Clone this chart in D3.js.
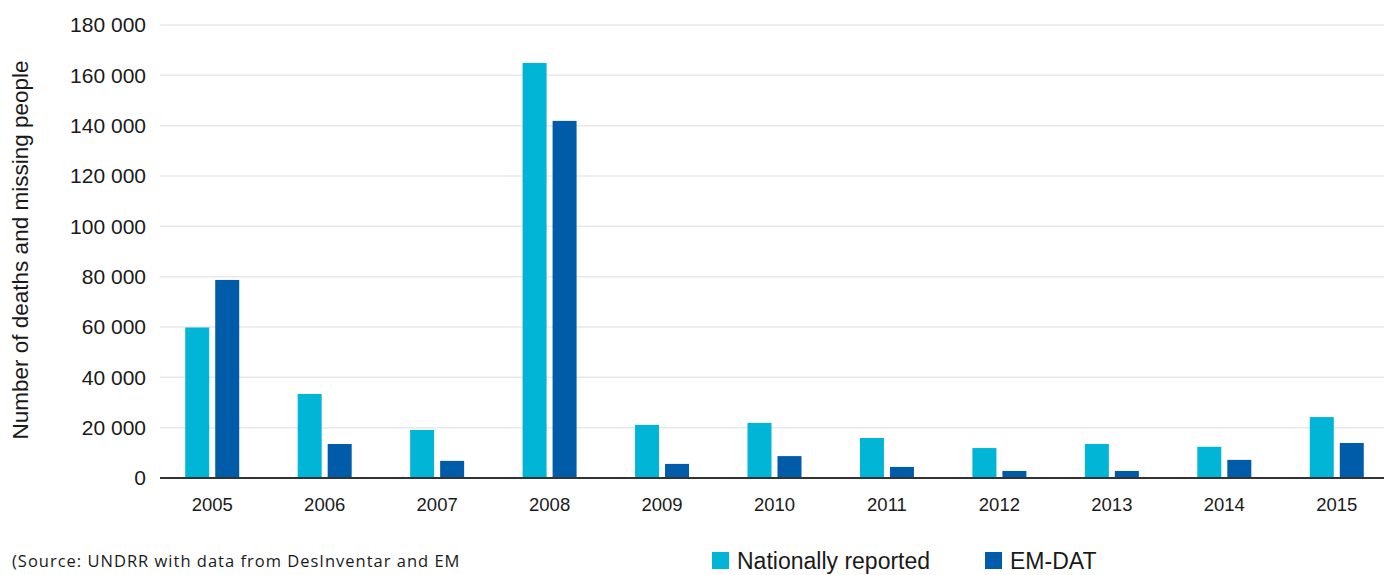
<!DOCTYPE html>
<html>
<head>
<meta charset="utf-8">
<script src="https://cdn.jsdelivr.net/npm/d3@7"></script>
<style>
  body { margin: 0; background: #fff; }
  svg { display: block; }
</style>
</head>
<body>
<svg id="chart"></svg>
<script>
const years = ["2005", "2006", "2007", "2008", "2009", "2010", "2011", "2012", "2013", "2014", "2015"];
const nationally = [59800, 33400, 19100, 164900, 21100, 21900, 15900, 11900, 13500, 12400, 24200];
const emdat = [78700, 13500, 6800, 141900, 5600, 8700, 4400, 2800, 2800, 7200, 13900];
const seriesNames = ["Nationally reported", "EM-DAT"];
const yTicks = [0, 20000, 40000, 60000, 80000, 100000, 120000, 140000, 160000, 180000];

const width = 1384, height = 575;
const colors = ["#00b5d6", "#005ca9"];
const font = "'Liberation Sans', Arial, sans-serif";

const svg = d3.select("#chart").attr("width", width).attr("height", height);

const x = d3.scaleBand().domain(years).range([156, 1393]);
const y = d3.scaleLinear().domain([0, 180000]).range([478, 25]);

// gridlines
svg.append("g")
    .selectAll("line")
    .data(yTicks.filter(d => d > 0))
    .join("line")
    .attr("x1", 160)
    .attr("x2", width)
    .attr("y1", d => y(d))
    .attr("y2", d => y(d))
    .attr("stroke", "#e8e8e8")
    .attr("stroke-width", 1.5);

// y tick labels
svg.append("g")
    .selectAll("text")
    .data(yTicks)
    .join("text")
    .attr("x", 146)
    .attr("y", d => y(d))
    .attr("dy", "0.35em")
    .attr("text-anchor", "end")
    .attr("font-family", font)
    .attr("font-size", 21)
    .attr("fill", "#1a1a1a")
    .text(d => d3.format(",")(d).replace(/,/g, " "));

// bars
const barW = 24, gap = 6;
const groups = svg.append("g")
    .selectAll("g")
    .data(years)
    .join("g")
    .attr("transform", d => `translate(${x(d) + x.bandwidth() / 2}, 0)`);

groups.append("rect")
    .attr("x", -barW - gap / 2)
    .attr("y", (d, i) => y(nationally[i]))
    .attr("width", barW)
    .attr("height", (d, i) => y(0) - y(nationally[i]))
    .attr("fill", colors[0]);

groups.append("rect")
    .attr("x", gap / 2)
    .attr("y", (d, i) => y(emdat[i]))
    .attr("width", barW)
    .attr("height", (d, i) => y(0) - y(emdat[i]))
    .attr("fill", colors[1]);

// baseline
svg.append("line")
    .attr("x1", 160)
    .attr("x2", width)
    .attr("y1", y(0))
    .attr("y2", y(0))
    .attr("stroke", "#333")
    .attr("stroke-width", 2);

// x labels
groups.append("text")
    .attr("y", 505)
    .attr("dy", "0.35em")
    .attr("text-anchor", "middle")
    .attr("font-family", font)
    .attr("font-size", 18.5)
    .attr("fill", "#1a1a1a")
    .text(d => d);

// y axis title
svg.append("text")
    .attr("transform", "translate(22, 250) rotate(-90)")
    .attr("text-anchor", "middle")
    .attr("dominant-baseline", "middle")
    .attr("font-family", font)
    .attr("font-size", 22.5)
    .attr("fill", "#1a1a1a")
    .text("Number of deaths and missing people");

// source
svg.append("text")
    .attr("x", 12)
    .attr("y", 561)
    .attr("dy", "0.35em")
    .attr("font-family", "'Open Sans', sans-serif")
    .attr("font-size", 16.5)
    .attr("letter-spacing", 1)
    .attr("fill", "#1a1a1a")
    .text("(Source: UNDRR with data from DesInventar and EM");

// legend
const legendX = [712, 985];
const legend = svg.append("g")
    .selectAll("g")
    .data(seriesNames)
    .join("g")
    .attr("transform", (d, i) => `translate(${legendX[i]}, 552)`);

legend.append("rect")
    .attr("width", 17)
    .attr("height", 17)
    .attr("fill", (d, i) => colors[i]);

legend.append("text")
    .attr("x", 25)
    .attr("y", 9)
    .attr("dy", "0.35em")
    .attr("font-family", font)
    .attr("font-size", 23)
    .attr("fill", "#1a1a1a")
    .text(d => d);
</script>
</body>
</html>
